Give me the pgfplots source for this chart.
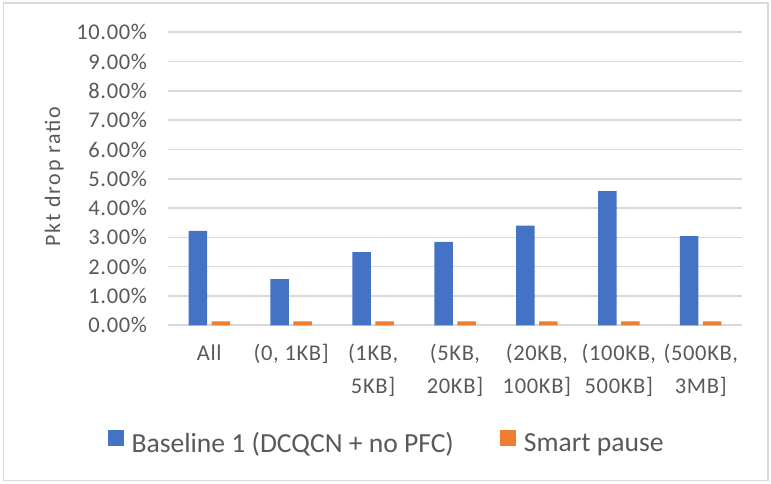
\documentclass[border=0pt]{standalone}
\usepackage{pgfplots}
\pgfplotsset{compat=1.18}
\usepackage{fontspec}
\setmainfont{Carlito}
\newfontfamily\tickfont[LetterSpace=3]{Carlito}
\newfontfamily\titlefont[LetterSpace=8]{Carlito}

\definecolor{barblue}{HTML}{4472C4}
\definecolor{barorange}{HTML}{ED7D31}
\definecolor{textgray}{HTML}{595959}
\definecolor{gridgray}{HTML}{D9D9D9}

\begin{document}
\begin{tikzpicture}
\useasboundingbox (0,0) rectangle (771bp,484bp);
% chart frame
\draw[gridgray, line width=1.5bp] (3.5bp,3.5bp) rectangle (768bp,481bp);

\begin{axis}[
  at={(168.3bp,158.7bp)}, anchor=south west,
  scale only axis,
  width=573.4bp, height=293bp,
  ybar=4.5bp, bar width=18.5bp,
  xmin=-0.5, xmax=6.5,
  ymin=0, ymax=10,
  ytick distance=1,
  xtick={0,...,6},
  xticklabels={All,{(0, 1KB]},{(1KB,\\5KB]},{(5KB,\\20KB]},{(20KB,\\100KB]},{(100KB,\\500KB]},{(500KB,\\3MB]}},
  axis line style={draw=none},
  major tick length=0pt,
  ymajorgrids,
  grid style={gridgray, line width=1.6bp},
  yticklabel={\pgfmathprintnumber{\tick}\%},
  yticklabel style={
    /pgf/number format/.cd, fixed, fixed zerofill, precision=2, assume math mode=true,
    /tikz/.cd, font=\tickfont\fontsize{22.5bp}{26bp}\selectfont, text=textgray,
    anchor=east, inner sep=0pt, xshift=-21bp},
  xticklabel style={font=\tickfont\fontsize{22.5bp}{33bp}\selectfont, text=textgray,
    align=center, anchor=north, inner sep=0pt, yshift=-19bp},
  ylabel={Pkt drop ratio},
  ylabel style={font=\titlefont\fontsize{22bp}{26bp}\selectfont, text=textgray,
    at={(axis description cs:-0.199,0.507)}, anchor=center},
  legend columns=2,
  legend image code/.code={\fill[#1] (0bp,-3.3bp) rectangle (16bp,12.7bp);},
  legend style={at={(axis description cs:0.379,-0.398)}, anchor=center,
    draw=none, fill=none, text=textgray,
    font=\fontsize{27.6bp}{32bp}\selectfont,
    nodes={inner sep=0pt},
    /tikz/every odd column/.append style={column sep=8bp},
    /tikz/every even column/.append style={column sep=46bp}},
]
\addplot[fill=barblue, draw=none] coordinates {
  (0,3.22) (1,1.58) (2,2.50) (3,2.85) (4,3.40) (5,4.58) (6,3.04)};
\addlegendentry{Baseline 1 (DCQCN + no PFC)}
\addplot[fill=barorange, draw=none] coordinates {
  (0,0.13) (1,0.13) (2,0.13) (3,0.13) (4,0.13) (5,0.13) (6,0.13)};
\addlegendentry{Smart pause}
\end{axis}
\end{tikzpicture}
\end{document}
